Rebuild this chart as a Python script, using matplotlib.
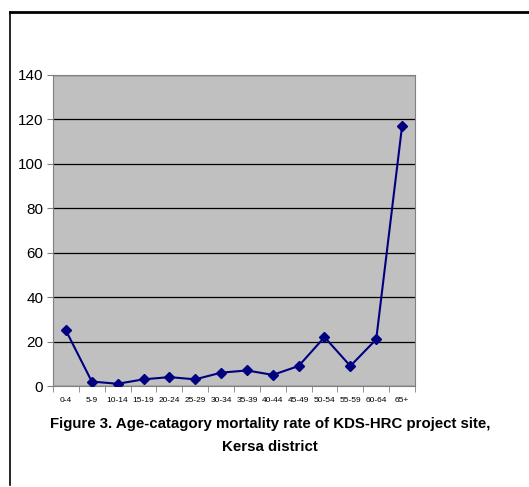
import numpy as np
import matplotlib.pyplot as plt
from matplotlib.lines import Line2D

# age groups and mortality rate
ages = ['0-4', '5-9', '10-14', '15-19', '20-24', '25-29', '30-34',
        '35-39', '40-44', '45-49', '50-54', '55-59', '60-64', '65+']
rates = [25, 2, 1, 3, 4, 3, 6, 7, 5, 9, 22, 9, 21, 117]
yticks = [0, 20, 40, 60, 80, 100, 120, 140]

plt.rcParams['font.family'] = ['Liberation Sans', 'DejaVu Sans']

W, H = 529, 487
fig = plt.figure(figsize=(W / 100, H / 100), dpi=100)
ax = fig.add_axes([53 / W, 1 - 386 / H, (415 - 53) / W, (386 - 75) / H])

x = np.arange(len(ages))
ax.set_facecolor('#c0c0c0')
ax.plot(x, rates, color='#000080', lw=1.5, marker='D', ms=5.5,
        markerfacecolor='#000080', markeredgecolor='#000080', zorder=3)

ax.set_xlim(-0.5, len(ages) - 0.5)
ax.set_ylim(0, 140)
ax.set_yticks(yticks)
ax.set_yticklabels([str(v) for v in yticks], fontsize=11)
ax.yaxis.grid(True, color='black', lw=0.9)
ax.set_axisbelow(True)

# category labels centred, ticks on the boundaries
ax.set_xticks(x)
ax.set_xticklabels(ages, fontsize=6)
ax.tick_params(axis='x', length=0, pad=8)
ax.set_xticks(np.arange(len(ages) + 1) - 0.5, minor=True)
ax.tick_params(axis='x', which='minor', length=4, color='#808080')
ax.tick_params(axis='y', length=4, color='#808080', pad=3)

for side in ['top', 'right', 'left', 'bottom']:
    ax.spines[side].set_color('#808080')

fig.text(270 / W, 1 - 424 / H, 'Figure 3. Age-catagory mortality rate of KDS-HRC project site,',
         ha='center', va='center', fontsize=10.8, fontweight='bold')
fig.text(270 / W, 1 - 447 / H, 'Kersa district',
         ha='center', va='center', fontsize=10.8, fontweight='bold')

# page frame (top and left edges)
fig.add_artist(Line2D([10 / W, 1], [1 - 12 / H, 1 - 12 / H], color='black', lw=2))
fig.add_artist(Line2D([10 / W, 10 / W], [1 - 12 / H, 1 - 485 / H], color='black', lw=1.2))

fig.savefig('out.png', dpi=100)
